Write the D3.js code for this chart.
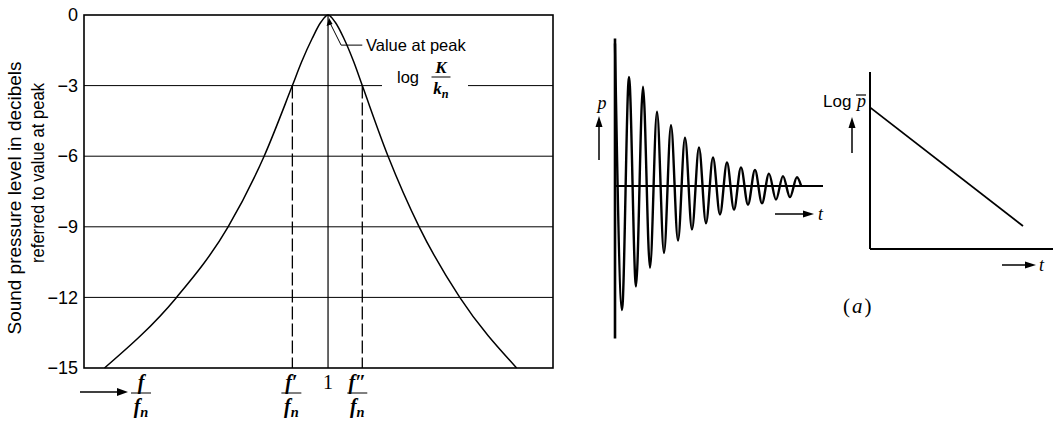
<!DOCTYPE html>
<html><head><meta charset="utf-8">
<script src="https://cdn.jsdelivr.net/npm/d3@7"></script>
<style>
body{margin:0;background:#fff;}
svg{display:block;}
.sans{font-family:"Liberation Sans","DejaVu Sans",sans-serif;}
.serif{font-family:"Liberation Serif","DejaVu Serif",serif;}
</style>
</head><body>
<svg id="c" width="1062" height="427"></svg>
<script>
// ---------- data: resonance curve ----------
const freqRatio = [0.367, 0.571, 0.717, 0.819, 0.899, 0.925, 0.955, 0.980, 1.0, 1.020, 1.045, 1.073, 1.097, 1.170, 1.258, 1.373, 1.534];
const levelDb   = [-15, -12, -9, -6, -3, -2, -1, -0.3, 0, -0.3, -1, -2, -3, -6, -9, -12, -15];
const yTicks = [0, -3, -6, -9, -12, -15];
const halfPowerLow = 0.899, halfPowerHigh = 1.097, peakRatio = 1.0;
// ---------- data: decaying pressure ----------
const waveT = [0,0.5,1,1.5,2,2.5,3,3.5,4,4.5,5,5.5,6,6.5,7,7.5,8,8.5,9,9.5,10,10.5,11,11.5,12,12.5,13,13.3];
const waveP = [1.15,-1.0,0.88,-0.81,0.80,-0.66,0.60,-0.54,0.49,-0.44,0.39,-0.35,0.31,-0.30,0.23,-0.23,0.19,-0.19,0.15,-0.15,0.13,-0.14,0.10,-0.11,0.08,-0.09,0.07,0.0];
// ---------- data: log of mean pressure ----------
const logT = [0, 0.836];
const logP = [0.80, 0.13];

const svg = d3.select("#c");

// ===== Left chart =====
const x = d3.scaleLinear().domain([0.309, 1.637]).range([84, 553]);
const y = d3.scaleLinear().domain([-15, 0]).range([368, 15]);
const L = svg.append("g");

[-6, -9, -12].forEach(v => {
  L.append("line").attr("x1", x.range()[0]).attr("x2", x.range()[1])
    .attr("y1", y(v)).attr("y2", y(v)).attr("stroke", "#000").attr("stroke-width", 1);
});
L.append("line").attr("x1", x.range()[0]).attr("x2", 382).attr("y1", y(-3)).attr("y2", y(-3)).attr("stroke", "#000").attr("stroke-width", 1);
L.append("line").attr("x1", 468).attr("x2", x.range()[1]).attr("y1", y(-3)).attr("y2", y(-3)).attr("stroke", "#000").attr("stroke-width", 1);

L.append("rect").attr("x", x.range()[0]).attr("y", y(0)).attr("width", x.range()[1]-x.range()[0])
  .attr("height", y(-15)-y(0)).attr("fill", "none").attr("stroke", "#000").attr("stroke-width", 1.6);

const yAxis = d3.axisLeft(y).tickValues(yTicks).tickSize(0).tickPadding(6);
const ya = L.append("g").attr("transform", `translate(${x.range()[0]},0)`).call(yAxis);
ya.select(".domain").remove();
ya.selectAll("text").style("font-size", "18px").attr("fill", "#000")
  .style("font-family", '"Liberation Sans",sans-serif');

L.append("line").attr("x1", x(peakRatio)).attr("x2", x(peakRatio)).attr("y1", y(0)).attr("y2", y(-15))
  .attr("stroke", "#000").attr("stroke-width", 1.2);
[halfPowerLow, halfPowerHigh].forEach(f => {
  L.append("line").attr("x1", x(f)).attr("x2", x(f)).attr("y1", y(-3)).attr("y2", y(-15))
    .attr("stroke", "#000").attr("stroke-width", 1.3).attr("stroke-dasharray", "13,4");
});

const line = d3.line().x((d, i) => x(freqRatio[i])).y(d => y(d)).curve(d3.curveMonotoneX);
L.append("path").attr("d", line(levelDb)).attr("fill", "none").attr("stroke", "#000").attr("stroke-width", 1.5);

// annotation
const tipX = x(peakRatio) + 1, tipY = y(0) + 3;
L.append("path").attr("d", `M${x(1.097)},${y(-1.28)} L${x(1.037)},${y(-1.28)} L${tipX+1.5},${tipY+6}`)
  .attr("fill", "none").attr("stroke", "#000").attr("stroke-width", 1);
L.append("path").attr("d", `M${tipX},${tipY} L${tipX-2.5},${tipY+8} L${tipX+3.5},${tipY+6} Z`).attr("fill", "#000");
L.append("text").attr("class", "sans").attr("x", 366).attr("y", 51).style("font-size", "16.5px").text("Value at peak");
L.append("text").attr("class", "sans").attr("x", 397).attr("y", 83).style("font-size", "16.5px").text("log");

function frac(g, cx, lineY, num, den, w, size, bold) {
  g.append("text").attr("class", "serif").attr("x", cx).attr("y", lineY - 4).attr("text-anchor", "middle")
    .style("font-size", size + "px").style("font-style", "italic").style("font-weight", bold ? "bold" : "normal").text(num);
  g.append("line").attr("x1", cx - w/2).attr("x2", cx + w/2).attr("y1", lineY).attr("y2", lineY).attr("stroke", "#000").attr("stroke-width", 1);
  const t = g.append("text").attr("class", "serif").attr("x", cx).attr("y", lineY + size).attr("text-anchor", "middle")
    .style("font-size", size + "px").style("font-style", "italic").style("font-weight", bold ? "bold" : "normal");
  t.append("tspan").text(den[0]);
  t.append("tspan").attr("dy", size*0.22).style("font-size", (size*0.72) + "px").text(den[1]);
}
frac(L, 441, 77, "K", ["k", "n"], 19, 17, true);

frac(L, 141, 393, "f", ["f", "n"], 20, 20, true);
frac(L, x(halfPowerLow) - 1, 393, "f\u2032", ["f", "n"], 20, 20, true);
frac(L, x(halfPowerHigh) - 5, 393, "f\u2033", ["f", "n"], 20, 20, true);
L.append("text").attr("class", "serif").attr("x", x(peakRatio)).attr("y", 389).attr("text-anchor", "middle")
  .style("font-size", "20px").text("1");
L.append("line").attr("x1", 80).attr("x2", 120).attr("y1", 392).attr("y2", 392).attr("stroke", "#000").attr("stroke-width", 1.5);
L.append("path").attr("d", "M128,392 L117,388 L117,396 Z").attr("fill", "#000");

L.append("text").attr("class", "sans").attr("transform", "translate(21,198) rotate(-90)").attr("text-anchor", "middle")
  .style("font-size", "17.5px").attr("textLength", 273).attr("lengthAdjust", "spacingAndGlyphs").text("Sound pressure level in decibels");
L.append("text").attr("class", "sans").attr("transform", "translate(44,173) rotate(-90)").attr("text-anchor", "middle")
  .style("font-size", "17.5px").attr("textLength", 180).attr("lengthAdjust", "spacingAndGlyphs").text("referred to value at peak");

// ===== Middle chart =====
const tx = d3.scaleLinear().domain([0, 14.86]).range([615, 823]);
const py = d3.scaleLinear().domain([-1, 1]).range([310, 62]);
const M = svg.append("g");
M.append("line").attr("x1", tx(0)).attr("x2", tx(0)).attr("y1", py(1.19)).attr("y2", py(-1.23)).attr("stroke", "#000").attr("stroke-width", 2.6);
M.append("line").attr("x1", tx(0)).attr("x2", tx(14.86)).attr("y1", py(0)).attr("y2", py(0)).attr("stroke", "#000").attr("stroke-width", 2);
const wave = d3.line().x((d, i) => tx(waveT[i])).y(d => py(d)).curve(d3.curveMonotoneX);
M.append("path").attr("d", wave(waveP)).attr("fill", "none").attr("stroke", "#000").attr("stroke-width", 2.4);
M.append("text").attr("class", "serif").attr("x", 602).attr("y", 109).attr("text-anchor", "middle")
  .style("font-size", "18px").style("font-style", "italic").text("p");
M.append("line").attr("x1", 599).attr("x2", 599).attr("y1", 160).attr("y2", 124).attr("stroke", "#000").attr("stroke-width", 1.5);
M.append("path").attr("d", "M599,116 L595.5,127 L602.5,127 Z").attr("fill", "#000");
M.append("line").attr("x1", 775).attr("x2", 806).attr("y1", 214).attr("y2", 214).attr("stroke", "#000").attr("stroke-width", 1.5);
M.append("path").attr("d", "M814,214 L803,210.5 L803,217.5 Z").attr("fill", "#000");
M.append("text").attr("class", "serif").attr("x", 818).attr("y", 220).style("font-size", "18px").style("font-style", "italic").text("t");

// ===== Right chart =====
const rx = d3.scaleLinear().domain([0, 1]).range([870, 1053]);
const ry = d3.scaleLinear().domain([0, 1]).range([249, 72]);
const R = svg.append("g");
R.append("line").attr("x1", rx(0)).attr("x2", rx(0)).attr("y1", ry(1)).attr("y2", ry(0)).attr("stroke", "#000").attr("stroke-width", 2);
R.append("line").attr("x1", rx(0)).attr("x2", rx(1)).attr("y1", ry(0)).attr("y2", ry(0)).attr("stroke", "#000").attr("stroke-width", 2);
const lp = d3.line().x((d, i) => rx(logT[i])).y(d => ry(d));
R.append("path").attr("d", lp(logP)).attr("fill", "none").attr("stroke", "#000").attr("stroke-width", 1.8);
R.append("text").attr("class", "sans").attr("x", 823).attr("y", 107).style("font-size", "17px").text("Log");
R.append("text").attr("class", "serif").attr("x", 857).attr("y", 107).style("font-size", "18px").style("font-style", "italic").text("p");
R.append("line").attr("x1", 856).attr("x2", 866).attr("y1", 95).attr("y2", 95).attr("stroke", "#000").attr("stroke-width", 1.2);
R.append("line").attr("x1", 852).attr("x2", 852).attr("y1", 153).attr("y2", 125).attr("stroke", "#000").attr("stroke-width", 1.5);
R.append("path").attr("d", "M852,117 L848.5,128 L855.5,128 Z").attr("fill", "#000");
R.append("line").attr("x1", 1002).attr("x2", 1028).attr("y1", 265).attr("y2", 265).attr("stroke", "#000").attr("stroke-width", 1.5);
R.append("path").attr("d", "M1036,265 L1025,261.5 L1025,268.5 Z").attr("fill", "#000");
R.append("text").attr("class", "serif").attr("x", 1039).attr("y", 271).style("font-size", "18px").style("font-style", "italic").text("t");
const a = R.append("text").attr("class", "serif").attr("x", 843).attr("y", 313).style("font-size", "21px").style("letter-spacing", "2px");
a.append("tspan").text("(");
a.append("tspan").style("font-style", "italic").text("a");
a.append("tspan").text(")");
</script>
</body></html>
